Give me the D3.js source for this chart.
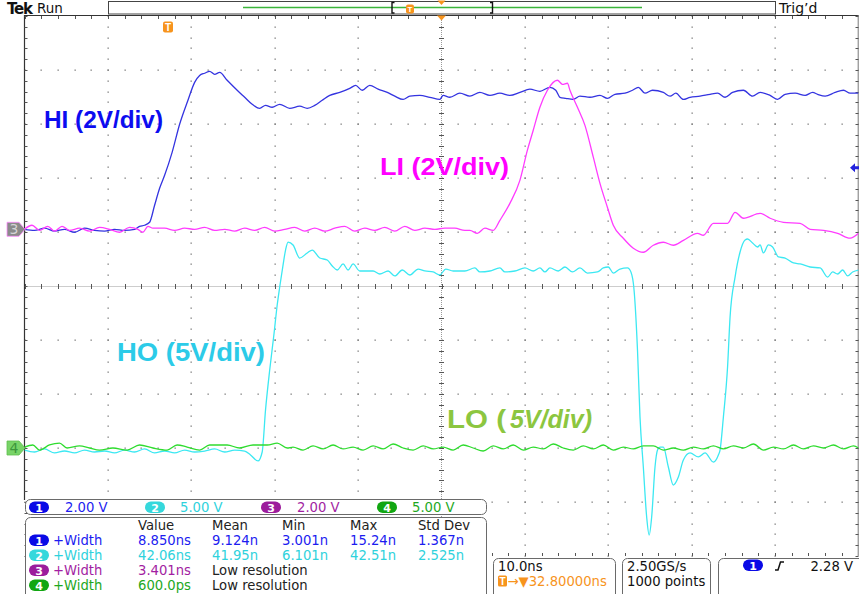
<!DOCTYPE html>
<html><head><meta charset="utf-8">
<script src="https://cdn.jsdelivr.net/npm/d3@7"></script>
<style>html,body{margin:0;padding:0;background:#fff;overflow:hidden}</style>
</head><body>
<svg id="c" width="859" height="594" xmlns="http://www.w3.org/2000/svg"></svg>
<script>
// ---------------- data ----------------
const timePerDiv = 10;                 // ns/div
const voltsPerDiv = [2, 5, 2, 5];      // ch1..ch4
const chPositions = [1.05, -3, 1.05, -3]; // ground offset in divisions from centre
const chLabels = ["HI (2V/div)", "HO (5V/div)", "LI (2V/div)", "LO (5V/div)"];
const scaleLabels = ["2.00 V", "5.00 V", "2.00 V", "5.00 V"];
const measHeaders = ["Value", "Mean", "Min", "Max", "Std Dev"];
const measRows = [
  ["8.850ns", "9.124n", "3.001n", "15.24n", "1.367n"],
  ["42.06ns", "41.95n", "6.101n", "42.51n", "2.525n"],
  ["3.401ns", "Low resolution"],
  ["600.0ps", "Low resolution"]
];
const horizLabels = ["10.0ns", "\u2192\u25BC32.80000ns", "2.50GS/s", "1000 points"];
const triggerLevel = 2.28;            // V on ch1
const triggerLabel = "2.28 V";

// [time ns, volts]
const HI = [[-50,0],[-48.8,-0.04],[-47.6,0.04],[-46.4,-0.07],[-45.2,0],[-44,-0.11],[-42.8,0.04],[-41.6,-0.04],[-40.4,-0.07],[-39.2,0],[-38,-0.04],[-36.8,0],[-36.2,0.11],[-35.6,0.15],[-35,0.26],[-34.4,0.89],[-33.8,1.52],[-33.2,2.0],[-32.3,2.85],[-31.4,3.89],[-30.4,4.78],[-29.6,5.44],[-29,5.7],[-28.4,5.78],[-27.8,5.85],[-27.2,5.74],[-26.6,5.81],[-25.7,5.52],[-24.5,5.15],[-23.6,4.89],[-22.7,4.63],[-21.8,4.48],[-21.1,4.59],[-20.3,4.52],[-19.4,4.63],[-18.2,4.48],[-17,4.56],[-16.1,4.48],[-15.2,4.59],[-14.3,4.78],[-13.4,4.96],[-12.2,5.07],[-11,5.22],[-10.3,5.33],[-9.5,5.15],[-8.6,5.33],[-7.6,5.19],[-6.5,5.07],[-5.6,4.93],[-4.6,4.81],[-3.8,4.93],[-2.6,4.96],[-1.4,4.89],[-0.2,4.81],[0.2,4.96],[1,4.89],[2.2,5.04],[3.4,4.93],[4.6,5.07],[5.8,4.96],[7,5.04],[8.2,4.96],[9.4,5.07],[10.6,5.19],[11.8,5.11],[13,5.26],[13.7,5.15],[14.2,4.89],[14.9,4.85],[15.8,4.81],[16.6,4.93],[17.8,4.89],[19,4.96],[19.9,4.85],[20.8,5.0],[22,5.04],[22.9,5.15],[23.6,5.26],[24.4,5.04],[25.3,5.15],[26.6,5.07],[27.4,4.93],[28.1,5.04],[29,4.81],[29.8,4.89],[31,4.93],[32.2,5.0],[33.1,5.04],[34,4.89],[34.9,5.07],[36.2,5.15],[37.3,4.93],[38.2,5.07],[39.4,4.96],[40.3,4.81],[41.2,5.0],[42.4,5.04],[43.6,4.96],[44.5,5.07],[45.1,5.0],[46,4.93],[47.2,5.07],[48.2,5.15],[49,5.04],[50,5.04]];

const HO = [[-50,-0.19],[-48.8,-0.37],[-47.6,-0.09],[-46.4,-0.46],[-45.2,-0.28],[-44,-0.46],[-42.8,-0.19],[-41.6,-0.37],[-40.4,-0.28],[-39.2,-0.46],[-38,-0.19],[-36.8,-0.37],[-35.6,-0.09],[-34.4,-0.46],[-33.2,-0.28],[-32,-0.46],[-30.8,-0.19],[-29.6,-0.37],[-28.4,-0.28],[-27.2,-0.09],[-26,-0.37],[-24.8,-0.19],[-23.6,-0.28],[-22.9,-0.65],[-22,-1.2],[-21.5,-0.37],[-21.1,3.52],[-20.6,7.22],[-20.1,10.46],[-19.7,13.24],[-19.4,14.91],[-19,16.94],[-18.7,18.33],[-18.4,19.07],[-17.8,18.8],[-17,17.59],[-16.1,18.06],[-15.5,18.33],[-14.6,17.59],[-13.7,17.41],[-13.1,16.85],[-12.5,16.48],[-11.8,17.04],[-11.2,16.48],[-10.6,17.04],[-9.8,16.39],[-8.2,16.39],[-7.4,16.11],[-6.4,16.39],[-5.6,15.93],[-4.7,16.48],[-3.8,16.02],[-2.8,16.57],[-2,16.39],[-1,16.3],[-0.2,16.02],[0.5,16.57],[1.4,16.39],[2.8,16.39],[4,16.67],[4.6,16.3],[5.8,16.39],[7,16.67],[7.6,16.3],[8.8,16.39],[10,16.67],[11,16.39],[11.8,16.67],[12.4,16.3],[13,16.67],[14,16.39],[14.8,16.76],[15.7,16.3],[16.6,16.67],[17.5,16.2],[18.7,16.3],[19.4,16.67],[20,16.76],[20.6,16.2],[21.4,16.57],[22.3,16.67],[22.6,16.48],[23,15.28],[23.5,9.07],[23.8,2.87],[24.2,-1.76],[24.6,-6.39],[24.9,-8.06],[25.2,-6.39],[25.6,-1.76],[25.9,-0.19],[26.2,0.09],[26.6,0.09],[27.2,-1.76],[27.8,-3.43],[28.4,-2.69],[29,-1.11],[29.8,-0.46],[30.8,-0.83],[31.6,-0.46],[32.6,-1.3],[33.2,-0.65],[33.4,-0.19],[33.8,2.87],[34.3,7.5],[34.6,12.13],[35.2,15.83],[35.8,18.15],[36.4,19.26],[36.7,19.35],[37.3,18.98],[37.9,18.61],[38.2,18.8],[38.6,18.06],[39.2,18.8],[39.7,18.61],[40.4,17.69],[41.2,17.59],[42.2,17.13],[43,17.04],[44.2,16.76],[45.4,16.67],[46.3,15.83],[46.9,16.3],[47.5,16.11],[48.1,16.48],[48.7,15.93],[49.3,16.3],[50,16.48]];

const LI = [[-50,0],[-49.1,0.15],[-48.2,-0.04],[-47.2,0.11],[-46.4,-0.07],[-45.5,0.11],[-44.6,-0.04],[-43.4,0.04],[-42.2,-0.07],[-41,0.07],[-39.8,0],[-38.6,-0.11],[-37.4,0.07],[-36.4,0],[-35.8,-0.11],[-35.2,0.11],[-34.6,0.04],[-33.2,0.04],[-32,-0.04],[-30.8,0.04],[-29.6,0],[-28.4,0.07],[-27.2,-0.04],[-26,0],[-24.8,-0.07],[-23.6,0.04],[-22.4,-0.04],[-21.2,0.07],[-20,-0.07],[-18.8,0],[-17.6,0.07],[-16.4,-0.07],[-15.2,0.04],[-14,-0.07],[-12.8,0.04],[-11.6,0.11],[-10.4,-0.07],[-9.2,0.04],[-8,-0.04],[-6.8,0.07],[-5.6,-0.07],[-4.4,0.11],[-3.2,-0.04],[-2,0.04],[-0.8,0],[0.4,0.04],[1.6,0.04],[2.8,-0.04],[3.4,-0.04],[4.3,-0.15],[5.2,0.04],[6.2,-0.04],[7,0.33],[8.2,0.96],[9.4,1.81],[10.3,2.93],[11,3.67],[11.8,4.52],[12.7,5.15],[13.9,5.52],[14.5,5.37],[15.1,5.41],[15.4,5.15],[16.3,4.52],[17.2,3.85],[18.2,2.67],[19,1.7],[19.9,0.81],[20.6,0.15],[21.8,-0.33],[23,-0.7],[24.2,-0.85],[25.4,-0.59],[26.6,-0.48],[27.8,-0.59],[29,-0.41],[30.7,-0.15],[31.4,-0.22],[32.6,0.22],[34.3,0.22],[35.2,0.63],[36.2,0.41],[38.2,0.59],[39.4,0.41],[41,0.26],[43,0.22],[44.2,0],[45.8,-0.04],[47.5,-0.15],[49,-0.33],[50,-0.15]];

const LO = [[-50,0.09],[-49,0.28],[-48.2,-0.19],[-47,0.28],[-45.8,0.46],[-44.9,0],[-43.4,0.19],[-42.2,0],[-41,-0.19],[-39.4,0],[-37.7,-0.19],[-36.2,0.28],[-34.6,0],[-32.9,-0.19],[-31.7,0.28],[-30.5,0.09],[-29,-0.19],[-27.8,0.28],[-25.7,0.28],[-24.2,0],[-22.6,0.28],[-20.9,0.28],[-19.7,0.46],[-18.5,0],[-17.8,0.09],[-16.6,-0.19],[-15.4,0.19],[-14.2,-0.09],[-13,0.28],[-11.8,-0.09],[-10.6,0.09],[-9.4,-0.19],[-8.2,0.19],[-7,-0.09],[-5.8,0.37],[-4.6,0],[-3.4,-0.19],[-2.2,0.19],[-1,-0.09],[0.2,0.09],[1.4,-0.19],[2.6,0.28],[3.8,0],[5,-0.28],[6.2,0.19],[7.4,-0.09],[8.6,0.28],[9.8,-0.19],[11,0.09],[12.2,-0.09],[13.4,0.37],[14.6,0],[15.8,-0.19],[17,0.19],[18.2,-0.09],[19.4,0.28],[20.6,-0.19],[21.8,0.09],[23,-0.09],[24.2,0.19],[25.4,0.19],[26.6,-0.19],[27.8,0],[29,-0.19],[30.2,0.09],[31.4,-0.09],[32.6,0.19],[33.8,-0.09],[35,0.19],[36.2,0],[37.4,0.37],[38.6,-0.19],[39.8,0.09],[41,-0.09],[42.2,0.28],[43.4,-0.09],[44.6,0.19],[45.8,0],[47,0.28],[48.2,-0.09],[49.4,0.19],[50,0]];

const waves = [HI, HO, LI, LO];

// ---------------- styling ----------------
const waveColors  = ["#3434e0", "#3ce8f2", "#ff3cff", "#2fdc2f"];
const labelColors = ["#0c0cf0", "#2ccbe8", "#ff00ff", "#8cc640"];
const pillColors  = ["#0a0ae6", "#36d8dc", "#9c1c9c", "#12a612"];
const textColors  = ["#1c1cf0", "#2fd2dc", "#a21ea2", "#1ea81e"];
const ORANGE = "#f7941d";
const UI = "'DejaVu Sans', Verdana, sans-serif";
const BOLD = "'Liberation Sans', Arial, sans-serif";

const svg = d3.select("#c");
const L = 24.5, R = 858.5, CY = 286, divY = 54, T = CY - 5 * divY, B = CY + 5 * divY;
const x = d3.scaleLinear().domain([-5 * timePerDiv, 5 * timePerDiv]).range([L, R]);
const CX = x(0);
const yCh = voltsPerDiv.map((vpd, i) => {
  const g = CY - chPositions[i] * divY;
  return d3.scaleLinear().domain([0, vpd]).range([g, g - divY]);
});

// ---------------- graticule ----------------
const grat = svg.append("g");
const majorT = d3.range(-5, 6).map(k => k * timePerDiv);
const minorT = d3.range(-25, 26).map(k => k * timePerDiv / 5);
const majorY = d3.range(-5, 6).map(k => CY + k * divY);
const minorY = d3.range(-25, 26).map(k => CY + k * divY / 5);

majorT.forEach(t => {
  if (t === 0 || Math.abs(t) === 50) return;
  minorY.forEach(yy => grat.append("rect").attr("x", Math.round(x(t)) - 0.5).attr("y", Math.round(yy) - 0.5)
    .attr("width", 1.3).attr("height", 1.3).attr("fill", "#7a7a7a"));
});
majorY.forEach(yy => {
  if (yy === CY || yy === T || yy === B) return;
  minorT.forEach(t => grat.append("rect").attr("x", Math.round(x(t)) - 0.5).attr("y", Math.round(yy) - 0.5)
    .attr("width", 1.3).attr("height", 1.3).attr("fill", "#7a7a7a"));
});
grat.append("line").attr("x1", L).attr("x2", R).attr("y1", CY + 0.5).attr("y2", CY + 0.5)
  .attr("stroke", "#9a9a9a").attr("stroke-dasharray", "1,1");
grat.append("line").attr("x1", CX).attr("x2", CX).attr("y1", T).attr("y2", B)
  .attr("stroke", "#9a9a9a").attr("stroke-dasharray", "1,1");
minorT.forEach(t => grat.append("line").attr("x1", Math.round(x(t)) + 0.5).attr("x2", Math.round(x(t)) + 0.5)
  .attr("y1", CY - 2).attr("y2", CY + 3).attr("stroke", "#555"));
minorY.forEach(yy => grat.append("line").attr("y1", Math.round(yy) + 0.5).attr("y2", Math.round(yy) + 0.5)
  .attr("x1", CX - 2.5).attr("x2", CX + 2.5).attr("stroke", "#555"));
grat.append("line").attr("x1", L).attr("x2", R).attr("y1", 15.5).attr("y2", 15.5).attr("stroke", "#333").attr("stroke-width", 1.2);
grat.append("line").attr("x1", L).attr("x2", L).attr("y1", 15).attr("y2", 500).attr("stroke", "#333").attr("stroke-width", 1.2);
grat.append("line").attr("x1", R - 0.3).attr("x2", R - 0.3).attr("y1", 15).attr("y2", B).attr("stroke", "#777").attr("stroke-width", 1);
minorT.forEach(t => {
  const xx = Math.round(x(t)) + 0.5;
  grat.append("line").attr("x1", xx).attr("x2", xx).attr("y1", 16).attr("y2", 19).attr("stroke", "#555");
  if (x(t) > 488) grat.append("line").attr("x1", xx).attr("x2", xx).attr("y1", B - 3).attr("y2", B).attr("stroke", "#555");
});
minorY.forEach(yy => {
  const y0 = Math.round(yy) + 0.5;
  grat.append("line").attr("x1", L).attr("x2", L + 3).attr("y1", y0).attr("y2", y0).attr("stroke", "#555");
  grat.append("line").attr("x1", R - 3).attr("x2", R).attr("y1", y0).attr("y2", y0).attr("stroke", "#555");
});

// ---------------- waveforms ----------------
svg.append("clipPath").attr("id", "clip").append("rect").attr("x", L).attr("y", 16).attr("width", R - L).attr("height", B - 16);
const wg = svg.append("g").attr("clip-path", "url(#clip)");
[1, 0, 2, 3].forEach(i => {
  const line = d3.line().x(d => x(d[0])).y(d => yCh[i](d[1])).curve(d3.curveMonotoneX);
  wg.append("path").datum(waves[i]).attr("d", line).attr("fill", "none")
    .attr("stroke", waveColors[i]).attr("stroke-width", 1.3).attr("stroke-linejoin", "round");
});

// ---------------- channel labels ----------------
function bigText(str, xx, yy, size, len, color, italic) {
  svg.append("text").attr("x", xx).attr("y", yy).text(str)
    .attr("font-family", BOLD).attr("font-weight", "bold").attr("font-size", size)
    .attr("font-style", italic ? "italic" : "normal")
    .attr("textLength", len).attr("lengthAdjust", "spacingAndGlyphs").attr("fill", color);
}
bigText(chLabels[0], 44, 128, 24, 119, labelColors[0]);
bigText(chLabels[2], 380, 175, 24, 129, labelColors[2]);
bigText(chLabels[1], 117, 361, 26, 148, labelColors[1]);
const loParts = chLabels[3].split("(");
bigText(loParts[0] + "(", 447, 428, 26, 59, labelColors[3]);
bigText(loParts[1], 510, 428, 26, 82, labelColors[3], true);

// ---------------- markers ----------------
function tag(cy, fill, stroke, txt, tcol) {
  svg.append("path").attr("d", `M7,${cy - 7} H19 L25,${cy} L19,${cy + 7} H7 Z`)
    .attr("fill", fill).attr("stroke", stroke).attr("stroke-width", 0.8);
  svg.append("text").attr("x", 14).attr("y", cy + 5).attr("text-anchor", "middle").text(txt)
    .attr("font-family", UI).attr("font-size", 14).attr("fill", tcol);
}
tag(yCh[2](0), "#8a8a8a", "#ff8cff", "3", "#d4d4d4");
tag(yCh[3](0), "#78d468", "#5fbf4f", "4", "#3c963c");
const ty = yCh[0](triggerLevel);
svg.append("path").attr("d", `M850,${ty} L855,${ty - 4.5} V${ty - 1.5} H859 V${ty + 1.5} H855 V${ty + 4.5} Z`).attr("fill", "#2222dd");
svg.append("path").attr("d", `M${CX - 4.5},15.5 H${CX + 4.5} L${CX},20.5 Z`).attr("fill", ORANGE);
svg.append("rect").attr("x", 163).attr("y", 21.5).attr("width", 10).attr("height", 11).attr("rx", 2).attr("fill", ORANGE);
svg.append("text").attr("x", 168).attr("y", 31).attr("text-anchor", "middle").text("T")
  .attr("font-family", BOLD).attr("font-weight", "bold").attr("font-size", 10).attr("fill", "#fff");

// ---------------- top bar ----------------
svg.append("text").attr("x", 7).attr("y", 13.5).text("Tek").attr("font-family", UI).attr("font-weight", "bold")
  .attr("font-size", 15).attr("letter-spacing", -1.2).attr("fill", "#111");
svg.append("text").attr("x", 37).attr("y", 12.5).text("Run").attr("font-family", UI).attr("font-size", 13.5).attr("fill", "#111");
svg.append("rect").attr("x", 108.5).attr("y", 1.5).attr("width", 667).attr("height", 12.5).attr("fill", "#fff").attr("stroke", "#444");
svg.append("line").attr("x1", 243).attr("x2", 642).attr("y1", 7.5).attr("y2", 7.5).attr("stroke", "#3bb53b").attr("stroke-width", 1.3);
svg.append("path").attr("d", "M394.5,2.5 H392 V13 H394.5").attr("fill", "none").attr("stroke", "#111").attr("stroke-width", 1.4);
svg.append("path").attr("d", "M490,2.5 H492.5 V13 H490").attr("fill", "none").attr("stroke", "#111").attr("stroke-width", 1.4);
svg.append("rect").attr("x", 406).attr("y", 4.5).attr("width", 8).attr("height", 9).attr("rx", 2).attr("fill", ORANGE);
svg.append("text").attr("x", 410).attr("y", 12).attr("text-anchor", "middle").text("T")
  .attr("font-family", BOLD).attr("font-weight", "bold").attr("font-size", 8).attr("fill", "#fff");
svg.append("path").attr("d", `M${CX - 4},0.5 H${CX + 4} L${CX},5 Z`).attr("fill", ORANGE);
svg.append("text").attr("x", 779).attr("y", 12.5).text("Trig\u2019d").attr("font-family", UI).attr("font-size", 14).attr("fill", "#111");

// ---------------- bottom readouts ----------------
function box(xx, yy, w, h) {
  svg.append("rect").attr("x", xx).attr("y", yy).attr("width", w).attr("height", h).attr("rx", 5)
    .attr("fill", "#fff").attr("stroke", "#6a6a6a").attr("stroke-width", 1);
}
function pill(xx, yy, col, n) {
  svg.append("rect").attr("x", xx).attr("y", yy).attr("width", 20).attr("height", 11.5).attr("rx", 5.75).attr("fill", col);
  svg.append("text").attr("x", xx + 10).attr("y", yy + 10).attr("text-anchor", "middle").text(n)
    .attr("font-family", UI).attr("font-weight", "bold").attr("font-size", 11).attr("fill", "#fff");
}
function uiText(str, xx, yy, col, anchor) {
  svg.append("text").attr("x", xx).attr("y", yy).text(str).attr("font-family", UI).attr("font-size", 13.2)
    .attr("fill", col).attr("text-anchor", anchor || "start");
}
box(25.5, 499.5, 461, 15);
const pillX = [29, 145, 261, 377], scaleX = [65, 180, 297, 412];
scaleLabels.forEach((s, i) => { pill(pillX[i], 501.5, pillColors[i], String(i + 1)); uiText(s, scaleX[i], 512, textColors[i]); });
box(25.5, 517.5, 461, 85);
const colX = [138, 212, 282, 350, 418];
measHeaders.forEach((h, j) => uiText(h, colX[j], 530, "#222"));
measRows.forEach((row, i) => {
  const by = 545 + i * 15;
  pill(29, by - 10.5, pillColors[i], String(i + 1));
  uiText("+Width", 53, by, textColors[i]);
  row.forEach((v, j) => uiText(v, colX[j], by, (v === "Low resolution") ? "#222" : textColors[i]));
});
box(493.5, 558.5, 122, 45);
uiText(horizLabels[0], 498, 571, "#111");
svg.append("rect").attr("x", 498).attr("y", 575.5).attr("width", 9).attr("height", 11).attr("rx", 1.5).attr("fill", ORANGE);
svg.append("text").attr("x", 502.5).attr("y", 584.5).attr("text-anchor", "middle").text("T")
  .attr("font-family", BOLD).attr("font-weight", "bold").attr("font-size", 10).attr("fill", "#fff");
uiText(horizLabels[1], 507.5, 586, ORANGE);
box(622.5, 558.5, 88, 45);
uiText(horizLabels[2], 627, 571, "#111");
uiText(horizLabels[3], 627, 586, "#111");
box(718.5, 558.5, 150, 45);
pill(743, 559.5, pillColors[0], "1");
svg.append("path").attr("d", "M775,570 H778 L780.5,562 H784").attr("fill", "none").attr("stroke", "#111").attr("stroke-width", 1.5);
uiText(triggerLabel, 853, 571, "#111", "end");
</script>
</body></html>
